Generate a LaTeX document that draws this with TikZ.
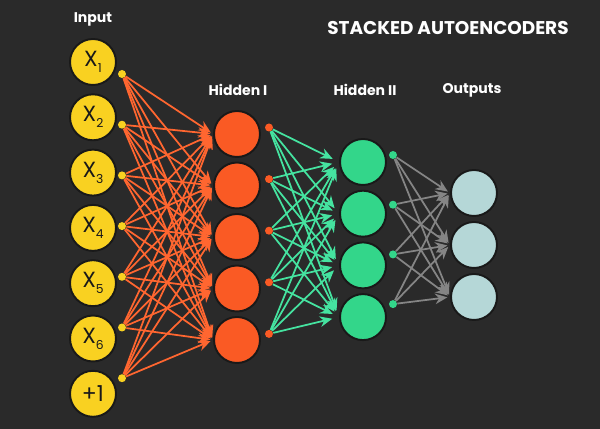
\documentclass[tikz,border=0pt]{standalone}
\usepackage{fontspec}
\setmainfont{Poppins}
\usetikzlibrary{arrows.meta,positioning}
\definecolor{bgcol}{HTML}{2A2A2A}
\definecolor{inyellow}{HTML}{F9D121}
\definecolor{hidorange}{HTML}{FA5A24}
\definecolor{wireorange}{HTML}{FF6630}
\definecolor{hidgreen}{HTML}{33D68A}
\definecolor{wiregreen}{HTML}{45E3A0}
\definecolor{outblue}{HTML}{B5D7D7}
\definecolor{wiregray}{HTML}{858585}
\pgfdeclarelayer{back}\pgfdeclarelayer{wires}
\pgfsetlayers{back,wires,main}
\newcommand{\xsub}[1]{X\raisebox{-0.5ex}{\fontsize{7}{8}\selectfont #1}}

\begin{document}
\begin{tikzpicture}[x=0.02cm, y=-0.02cm, >={Stealth[length=7pt,width=6pt]},
		unit/.style={circle, draw=black!90, line width=1.1pt, minimum size=0.92cm, inner sep=0pt, font=\fontsize{12.5}{13}\selectfont, text=black!90},
		dotnode/.style={circle, inner sep=0pt, minimum size=0.16cm},
		wire/.style={->, line width=1pt},
		lbl/.style={text=white, font=\bfseries\fontsize{8}{9}\selectfont}]
		% background
		\begin{pgfonlayer}{back}
			\fill[bgcol] (0,0) rectangle (600,429);
		\end{pgfonlayer}
		% input layer
		\foreach \i/\t in {1/\xsub{1},2/\xsub{2},3/\xsub{3},4/\xsub{4},5/\xsub{5},6/\xsub{6},7/+1} {
			\node[unit, fill=inyellow] (x\i) at (93,{62+55.3*(\i-1)}) {\t};
			\node[dotnode, fill=inyellow] (dx\i) at (122,{74+50.7*(\i-1)}) {};
		}
		% hidden I
		\foreach \j in {1,...,5} {
			\node[unit, fill=hidorange] (h\j) at (237,{134+51.5*(\j-1)}) {};
			\node[dotnode, fill=hidorange] (dh\j) at (269,{127.5+51.6*(\j-1)}) {};
		}
		% hidden II
		\foreach \k in {1,...,4} {
			\node[unit, fill=hidgreen] (g\k) at (363,{162+51.7*(\k-1)}) {};
			\node[dotnode, fill=hidgreen] (dg\k) at (393,{155+49.7*(\k-1)}) {};
		}
		% outputs
		\foreach \m in {1,...,3}
			\node[unit, fill=outblue] (o\m) at (474,{193+52*(\m-1)}) {};
		% connections
		\begin{pgfonlayer}{wires}
			\foreach \i in {1,...,7}
				\foreach \j in {1,...,5}
					\draw[wire, wireorange, shorten >=1.5pt] (dx\i) -- (h\j.west);
			\foreach \j in {1,...,5}
				\foreach \k in {1,...,4}
					\draw[wire, wiregreen, shorten >=4pt] (dh\j) -- (g\k.west);
			\foreach \k in {1,...,4}
				\foreach \m in {1,...,3}
					\draw[wire, wiregray, shorten >=1.5pt] (dg\k) -- (o\m.west);
		\end{pgfonlayer}
		% labels
		\node[lbl] (inlbl) at (93,19) {Input};
		\node[lbl] (h1lbl) at (238,90) {Hidden I};
		\node[lbl] (h2lbl) at (365,90) {Hidden II};
		\node[lbl] (outlbl) at (472,90) {Outputs};
		\node[text=white, font=\bfseries\fontsize{10.5}{11}\selectfont] (title) at (448,28) {STACKED AUTOENCODERS};
\end{tikzpicture}
\end{document}
